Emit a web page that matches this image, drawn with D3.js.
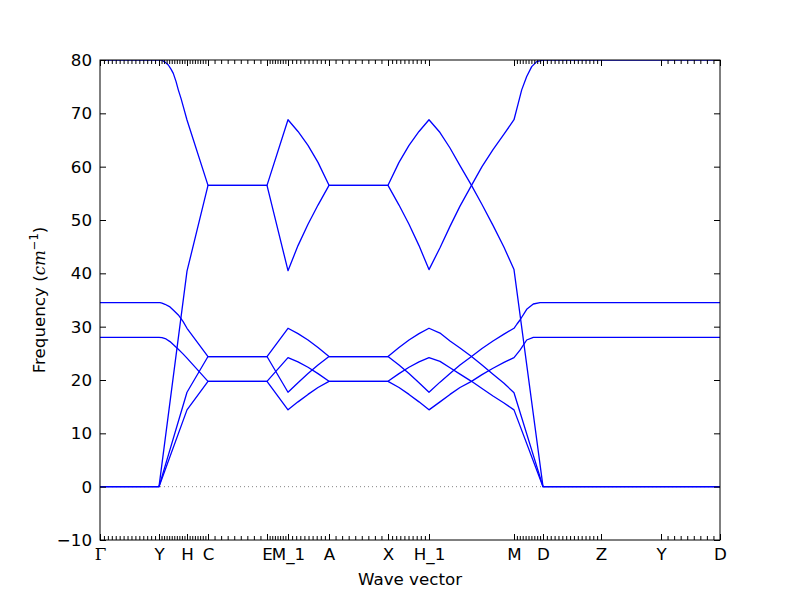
<!DOCTYPE html>
<html>
<head>
<meta charset="utf-8">
<script src="https://cdn.jsdelivr.net/npm/d3@7"></script>
<style>
  body { margin: 0; background: #fff; }
  text { font-family: "DejaVu Sans", sans-serif; }
</style>
</head>
<body>
<svg id="chart" width="800" height="600"></svg>
<script>
// high-symmetry points along the path (path distance)
const kLabels = ["Γ", "Y", "H", "C", "E", "M_1", "A", "X", "H_1", "M", "D", "Z", "Y", "D"];
const kPos = [0, 0.59, 0.87, 1.08, 1.67, 1.88, 2.29, 2.88, 3.29, 4.14, 4.43, 5.01, 5.61, 6.20];
// number of q-steps in each segment (shown as minor ticks)
const segSteps = [15, 11, 8, 9, 8, 10, 9, 10, 1, 10, 15, 1, 9];
const yTicks = [-10, 0, 10, 20, 30, 40, 50, 60, 70, 80];

// six phonon branches, [path distance, frequency cm^-1]
const band1 = [[0, 0], [0.59, 0], [0.87, 14.4], [1.08, 19.75], [1.67, 19.75], [1.88, 14.4],
  [1.98, 15.9], [2.08, 17.3], [2.18, 18.6], [2.29, 19.75], [2.88, 19.75],
  [2.99, 18.6], [3.09, 17.3], [3.19, 15.9], [3.29, 14.4],
  [3.40, 15.9], [3.50, 17.3], [3.60, 18.6], [3.715, 19.75], [3.82, 21.0], [3.93, 22.2], [4.04, 23.3], [4.14, 24.2],
  [4.20, 25.6], [4.267, 27.5], [4.333, 28.0], [4.43, 28.0], [6.20, 28.0]];
const band2 = [[0, 0], [0.59, 0], [0.87, 17.7], [1.08, 24.4], [1.67, 24.4], [1.88, 17.7],
  [1.98, 19.5], [2.08, 21.2], [2.18, 22.8], [2.29, 24.4], [2.88, 24.4],
  [2.99, 22.8], [3.09, 21.2], [3.19, 19.5], [3.29, 17.7],
  [3.40, 19.6], [3.50, 21.2], [3.60, 22.8], [3.715, 24.4], [3.82, 25.9], [3.93, 27.3], [4.04, 28.6], [4.14, 29.7],
  [4.17, 30.5], [4.20, 31.25], [4.267, 33.25], [4.333, 34.25], [4.40, 34.5], [6.20, 34.5]];
const band3 = [[0, 0], [0.59, 0], [0.87, 40.4], [1.08, 56.5], [1.67, 56.5], [1.88, 40.5],
  [1.98, 45.2], [2.08, 49.2], [2.18, 52.8], [2.29, 56.5], [2.88, 56.5],
  [2.99, 52.8], [3.09, 49.2], [3.19, 45.2], [3.29, 40.7],
  [3.40, 44.8], [3.50, 48.8], [3.60, 52.6], [3.715, 56.5], [3.82, 60.0], [3.93, 63.2], [4.04, 66.1], [4.14, 68.8],
  [4.183, 71.9], [4.217, 74.4], [4.267, 76.9], [4.317, 78.75], [4.367, 79.7], [4.43, 80], [6.20, 80]];
const band4 = [[0, 28.0], [0.59, 28.0], [0.62, 27.95], [0.66, 27.7], [0.70, 27.2], [0.74, 26.5], [0.783, 25.75],
  [0.83, 24.9], [0.87, 24.1], [1.08, 19.75], [1.67, 19.75], [1.88, 24.2],
  [1.98, 23.4], [2.08, 22.4], [2.18, 21.2], [2.29, 19.75], [2.88, 19.75],
  [2.99, 21.2], [3.09, 22.4], [3.19, 23.4], [3.29, 24.2],
  [3.40, 23.5], [3.50, 22.3], [3.60, 21.1], [3.715, 19.75], [3.82, 18.4], [3.93, 17.0], [4.04, 15.7], [4.14, 14.4],
  [4.43, 0], [6.20, 0]];
const band5 = [[0, 34.5], [0.60, 34.5], [0.62, 34.4], [0.65, 34.2], [0.70, 33.7], [0.74, 33.0], [0.783, 32.2],
  [0.83, 31.0], [0.87, 29.7], [1.08, 24.4], [1.67, 24.4], [1.88, 29.7],
  [1.98, 28.7], [2.08, 27.5], [2.18, 26.1], [2.29, 24.4], [2.88, 24.4],
  [2.99, 26.1], [3.09, 27.5], [3.19, 28.7], [3.29, 29.7],
  [3.40, 28.8], [3.50, 27.3], [3.60, 26.0], [3.715, 24.4], [3.82, 22.8], [3.93, 21.1], [4.04, 19.4], [4.14, 17.6],
  [4.43, 0], [6.20, 0]];
const band6 = [[0, 80], [0.617, 80], [0.65, 79.6], [0.683, 79.06], [0.71, 78.3], [0.733, 77.5], [0.76, 76.0],
  [0.783, 74.4], [0.81, 72.8], [0.833, 71.25], [0.87, 68.75], [1.08, 56.5], [1.67, 56.5], [1.88, 68.8],
  [1.98, 66.6], [2.08, 64.0], [2.18, 60.8], [2.29, 56.5], [2.88, 56.5],
  [2.99, 60.8], [3.09, 64.0], [3.19, 66.6], [3.29, 68.8],
  [3.40, 66.4], [3.50, 63.5], [3.60, 60.2], [3.715, 56.5], [3.82, 52.9], [3.93, 49.0], [4.04, 44.9], [4.14, 40.7],
  [4.43, 0], [6.20, 0]];
const bands = [band1, band2, band3, band4, band5, band6];

const width = 800, height = 600;
const margin = { top: 60, right: 80, bottom: 60, left: 100 };
const plotW = width - margin.left - margin.right;
const plotH = height - margin.top - margin.bottom;

const svg = d3.select("#chart");
const g = svg.append("g").attr("transform", `translate(${margin.left},${margin.top})`);

const x = d3.scaleLinear().domain([kPos[0], kPos[kPos.length - 1]]).range([0, plotW]);
const y = d3.scaleLinear().domain([-10, 80]).range([plotH, 0]);

g.append("clipPath").attr("id", "clip")
  .append("rect").attr("width", plotW).attr("height", plotH);

// zero line
g.append("line")
  .attr("x1", 0).attr("x2", plotW)
  .attr("y1", y(0)).attr("y2", y(0))
  .attr("stroke", "#666").attr("stroke-width", 0.8)
  .attr("stroke-dasharray", "1,3");

const line = d3.line().x(d => x(d[0])).y(d => y(d[1]));
g.append("g").attr("clip-path", "url(#clip)")
  .selectAll("path").data(bands).enter().append("path")
  .attr("d", line)
  .attr("fill", "none")
  .attr("stroke", "#0000ff")
  .attr("stroke-width", 1.3)
  .attr("stroke-linejoin", "round");

// minor ticks at every q-point
const minorQ = [];
segSteps.forEach((n, i) => {
  const a = kPos[i], b = kPos[i + 1];
  for (let j = 1; j < n; j++) minorQ.push(a + (b - a) * j / n);
});

function styleAxis(sel) {
  sel.select(".domain").remove();
  sel.selectAll(".tick line").attr("stroke", "#000");
}

// bottom: major + minor ticks (inward)
g.append("g").attr("transform", `translate(0,${plotH})`)
  .call(d3.axisBottom(x).tickValues(minorQ).tickSize(-4).tickFormat(""))
  .call(styleAxis);
const xb = g.append("g").attr("transform", `translate(0,${plotH})`)
  .call(d3.axisBottom(x).tickValues(kPos).tickSize(-6).tickPadding(8).tickFormat((d, i) => kLabels[i]))
  .call(styleAxis);
xb.selectAll(".tick text")
  .attr("fill", "#000")
  .style("font-size", "16.7px")
  .each(function (d, i) {
    if (kLabels[i] === "Γ") d3.select(this).style("font-family", "'DejaVu Serif', serif");
  });

// top ticks
g.append("g")
  .call(d3.axisTop(x).tickValues(minorQ).tickSize(-4).tickFormat(""))
  .call(styleAxis);
g.append("g")
  .call(d3.axisTop(x).tickValues(kPos).tickSize(-6).tickFormat(""))
  .call(styleAxis);

// left / right
const yl = g.append("g")
  .call(d3.axisLeft(y).tickValues(yTicks).tickSize(-6).tickPadding(8).tickFormat(d => d < 0 ? "\u2212" + (-d) : d))
  .call(styleAxis);
yl.selectAll(".tick text").attr("fill", "#000").style("font-size", "16.7px");
g.append("g").attr("transform", `translate(${plotW},0)`)
  .call(d3.axisRight(y).tickValues(yTicks).tickSize(-6).tickFormat(""))
  .call(styleAxis);

// frame
g.append("rect").attr("width", plotW).attr("height", plotH)
  .attr("fill", "none").attr("stroke", "#000").attr("stroke-width", 1);

// axis labels
svg.append("text")
  .attr("x", margin.left + plotW / 2).attr("y", 585)
  .attr("text-anchor", "middle")
  .style("font-size", "16.7px")
  .text("Wave vector");

const yt = svg.append("text")
  .attr("transform", `translate(45,${margin.top + plotH / 2}) rotate(-90)`)
  .attr("text-anchor", "middle")
  .style("font-size", "16.7px");
yt.append("tspan").text("Frequency (");
yt.append("tspan").style("font-family", "'DejaVu Serif', serif").style("font-style", "italic").text("cm");
yt.append("tspan").attr("dy", -7).style("font-size", "11.5px").text("\u22121");
yt.append("tspan").attr("dy", 7).text(")");
</script>
</body>
</html>
